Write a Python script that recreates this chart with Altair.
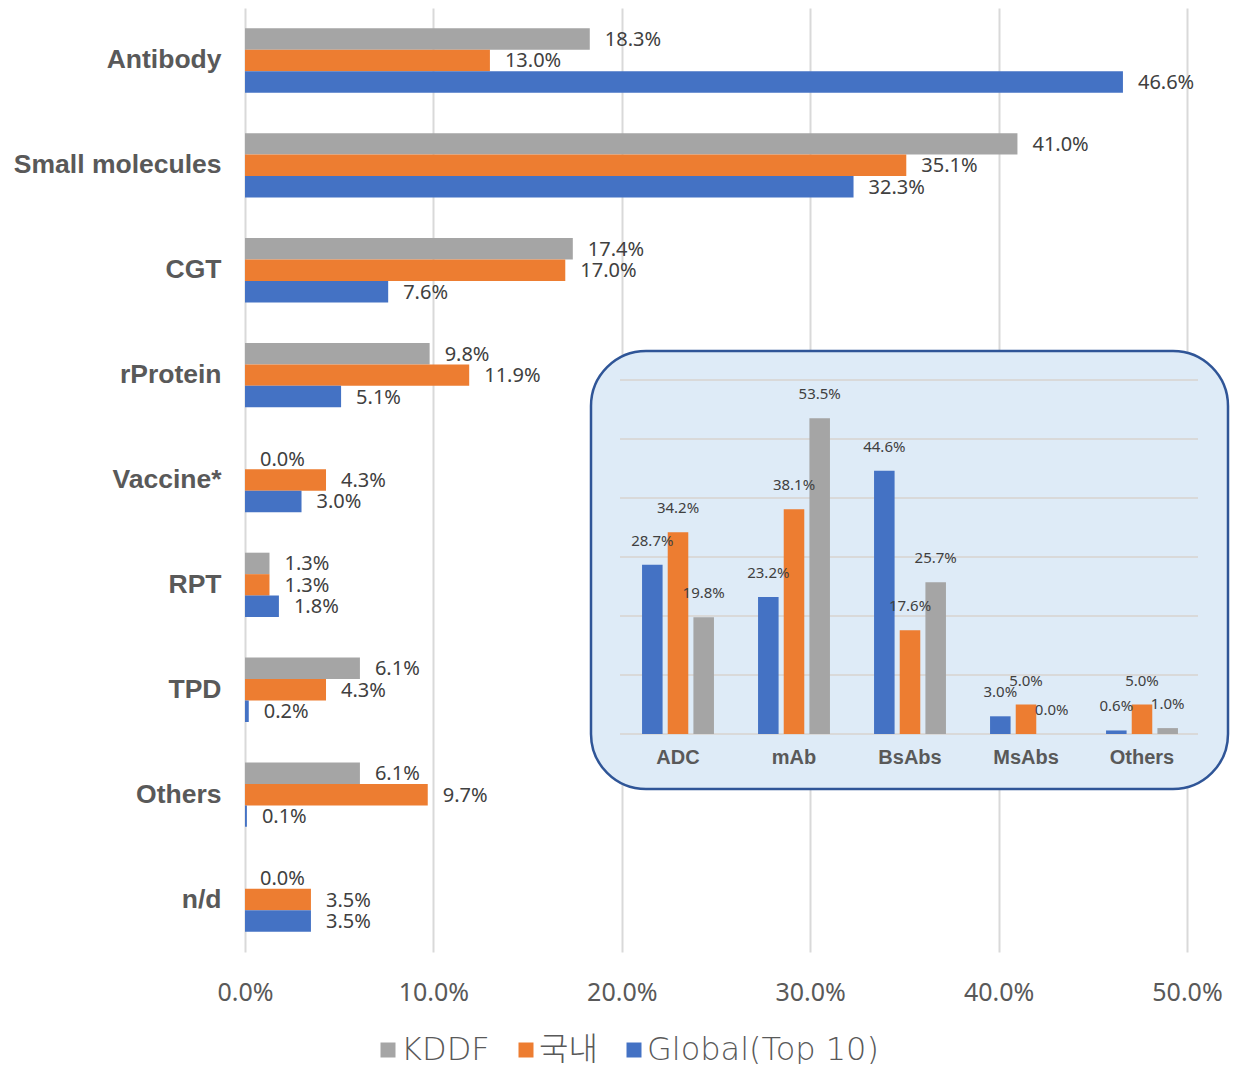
import altair as alt
import pandas as pd

# ---------------- data ----------------
categories = ["Antibody", "Small molecules", "CGT", "rProtein", "Vaccine*", "RPT", "TPD", "Others", "n/d"]
series = ["KDDF", "국내", "Global(Top 10)"]
colors = ["#A5A5A5", "#ED7D31", "#4472C4"]
kddf = [18.3, 41.0, 17.4, 9.8, 0.0, 1.3, 6.1, 6.1, 0.0]
domestic = [13.0, 35.1, 17.0, 11.9, 4.3, 1.3, 4.3, 9.7, 3.5]
global_top10 = [46.6, 32.3, 7.6, 5.1, 3.0, 1.8, 0.2, 0.1, 3.5]
x_ticks = [0, 10, 20, 30, 40, 50]

inset_categories = ["ADC", "mAb", "BsAbs", "MsAbs", "Others"]
inset_order = ["Global(Top 10)", "국내", "KDDF"]
inset_global = [28.7, 23.2, 44.6, 3.0, 0.6]
inset_domestic = [34.2, 38.1, 17.6, 5.0, 5.0]
inset_kddf = [19.8, 53.5, 25.7, 0.0, 1.0]
inset_grid = [0, 10, 20, 30, 40, 50, 60]

# ---------------- tables ----------------
rows = []
for s, vals in zip(series, [kddf, domestic, global_top10]):
    for c, v in zip(categories, vals):
        rows.append({"category": c, "series": s, "value": v, "label": f"{v:.1f}%"})
main_df = pd.DataFrame(rows)

irows = []
for s, vals in zip(series, [inset_kddf, inset_domestic, inset_global]):
    for c, v in zip(inset_categories, vals):
        irows.append({"icat": c, "series": s, "value": v, "label": f"{v:.1f}%"})
inset_df = pd.DataFrame(irows)
icat_df = pd.DataFrame({"icat": inset_categories})
grid_df = pd.DataFrame({"g": inset_grid})

LABEL_GREY = "#595959"
TEXT_DARK = "#404040"

color_enc = alt.Color(
    "series:N",
    scale=alt.Scale(domain=series, range=colors),
    sort=series,
    legend=alt.Legend(
        orient="none", legendX=127, legendY=1026, direction="horizontal",
        title=None, symbolType="square", symbolSize=225, symbolStrokeWidth=0,
        symbolOpacity=1, labelFont="DejaVu Sans, Noto Sans CJK KR", labelFontSize=32,
        labelFontWeight=300, labelColor=LABEL_GREY,
        labelOffset=alt.ExprRef(expr="-3"),
        columnPadding=20, padding=0, labelLimit=0,
    ),
)

main_x = alt.X(
    "value:Q",
    scale=alt.Scale(domain=[0, 50], nice=False, zero=True),
    axis=alt.Axis(
        values=x_ticks, labelExpr="format(datum.value, '.1f') + '%'",
        grid=True, gridColor="#D9D9D9", gridWidth=2, domain=False, ticks=False,
        labelFont="Noto Sans", labelFontSize=25, labelColor=LABEL_GREY,
        labelPadding=28, labelFlush=False, title=None,
    ),
)
main_y = alt.Y(
    "category:N", sort=categories,
    scale=alt.Scale(paddingInner=0.386, paddingOuter=0.193),
    axis=alt.Axis(
        title=None, domain=False, ticks=False, labelFont="Liberation Sans",
        labelFontWeight="bold", labelFontSize=26.5, labelColor=LABEL_GREY,
        labelPadding=24, labelLimit=0,
    ),
)
main_yoff = alt.YOffset("series:N", sort=series)

bars = alt.Chart(main_df).mark_bar().encode(
    x=main_x, y=main_y, yOffset=main_yoff, color=color_enc
)
labels = alt.Chart(main_df).mark_text(
    align="left", baseline="middle", dx=15, dy=1,
    font="Noto Sans", fontSize=20, color=TEXT_DARK,
).encode(x=main_x, y=main_y, yOffset=main_yoff, text="label:N")
main = alt.layer(bars, labels)

# ---------------- inset ----------------
bg = alt.Chart(pd.DataFrame({"k": [0]})).mark_rect(
    cornerRadius=55, fill="#DEEBF7", stroke="#2F5597", strokeWidth=2.5
).encode(x=alt.value(346), x2=alt.value(983), y=alt.value(343), y2=alt.value(781))

inset_y_scale = alt.Scale(domain=[0, 60], range=[726, 372], nice=False, zero=True)
inset_x = alt.X(
    "icat:N", sort=inset_categories, axis=None,
    scale=alt.Scale(range=[375, 955], paddingInner=0.38, paddingOuter=0.19),
)
inset_xoff = alt.XOffset(
    "series:N", sort=inset_order,
    scale=alt.Scale(paddingInner=0.2, paddingOuter=0),
)

igrid = alt.Chart(grid_df).mark_rule(color="#D9D9D9", strokeWidth=2).encode(
    y=alt.Y("g:Q", scale=inset_y_scale, axis=None),
    x=alt.value(375), x2=alt.value(953),
)
ibars = alt.Chart(inset_df).mark_bar().encode(
    x=inset_x, xOffset=inset_xoff,
    y=alt.Y("value:Q", scale=inset_y_scale, axis=None),
    color=color_enc,
)
ilabels = alt.Chart(inset_df).mark_text(
    align="center", baseline="middle", dy=-24,
    font="Noto Sans", fontSize=15, color=TEXT_DARK,
).encode(
    x=inset_x, xOffset=inset_xoff,
    y=alt.Y("value:Q", scale=inset_y_scale, axis=None),
    text="label:N",
)
icats = alt.Chart(icat_df).mark_text(
    align="center", baseline="middle", dy=24,
    font="Liberation Sans", fontWeight="bold", fontSize=20, color=LABEL_GREY,
).encode(
    x=inset_x,
    y=alt.YDatum(0, scale=inset_y_scale),
    text="icat:N",
)
inset = alt.layer(igrid, ibars, ilabels, icats)

chart = (
    alt.layer(main, bg, inset)
    .resolve_scale(x="independent", y="independent")
    .properties(
        width=942, height=944,
        autosize=alt.AutoSizeParams(type="none"),
        padding={"left": 237, "top": 0, "right": 46, "bottom": 112},
        background="white",
    )
    .configure_view(stroke=None)
)

chart.save("out.html", embed_options={"renderer": "svg", "actions": False})
